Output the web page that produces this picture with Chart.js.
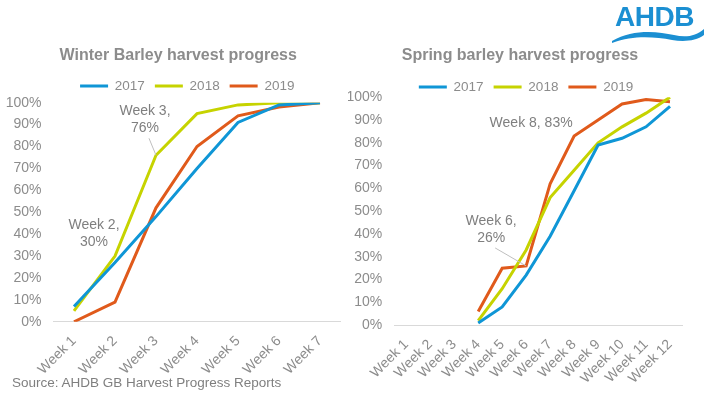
<!DOCTYPE html>
<html>
<head>
<meta charset="utf-8">
<script src="https://cdn.jsdelivr.net/npm/chart.js@4/dist/chart.umd.min.js"></script>
<style>
  body { margin: 0; background: #fff; width: 705px; height: 395px; overflow: hidden; position: relative; font-family: "Liberation Sans", Arial, sans-serif; }
  #winterBox { position: absolute; left: 0; top: 0; width: 352px; height: 389px; }
  #springBox { position: absolute; left: 348px; top: 0; width: 357px; height: 398px; }
  #source { position: absolute; left: 12px; top: 375px; font-size: 13.5px; color: #7f7f7f; }
  #logo { position: absolute; left: 612px; top: 1px; width: 92px; height: 44px; }
  #logo span { position: absolute; left: 3px; top: 0; font-weight: bold; font-size: 28px; color: #1b8fd2; letter-spacing: -0.5px; }
  #logo svg { position: absolute; left: 0; top: 26px; }
</style>
</head>
<body>
<div id="winterBox"><canvas id="winterChart"></canvas></div>
<div id="springBox"><canvas id="springChart"></canvas></div>
<div id="source">Source: AHDB GB Harvest Progress Reports</div>
<div id="logo"><span>AHDB</span>
  <svg width="92" height="18" viewBox="0 0 92 18"><path d="M0 14 C 20 2, 45 4, 62 8 C 74 11, 84 9, 92 2 L 92 8 C 84 14, 72 15, 60 13 C 42 10, 22 8, 0 16 Z" fill="#1b8fd2"/></svg>
</div>
<script>
// winter barley, % harvested by week
const winterWeeks = ["Week 1", "Week 2", "Week 3", "Week 4", "Week 5", "Week 6", "Week 7"];
const winter2017 = [7, 27, 48, 70, 91, 99, 100];
const winter2018 = [5, 30, 76, 95, 99, 100, 100];
const winter2019 = [0, 9, 52, 80, 94, 98, 100];

// spring barley, % harvested by week (nothing before week 4)
const springWeeks = ["Week 1", "Week 2", "Week 3", "Week 4", "Week 5", "Week 6", "Week 7", "Week 8", "Week 9", "Week 10", "Week 11", "Week 12"];
const spring2017 = [null, null, null, 1, 8, 22, 39, 59, 79, 82, 87, 96];
const spring2018 = [null, null, null, 2, 16, 33, 56, 68, 80, 87, 93, 100];
const spring2019 = [null, null, null, 6, 25, 26, 62, 83, 90, 97, 99, 98];

const years = ["2017", "2018", "2019"];
const colours = ["#0f96d6", "#c6d300", "#e05a1b"];
const grey = "#8c8c8c";
const font = "'Liberation Sans', Arial, sans-serif";

// data labels: dataset, point index, text lines, offset from point, leader line
const winterNotes = [
  { ds: 1, idx: 2, lines: ["Week 3,", "76%"], dx: -11, dy: -44, leader: true },
  { ds: 1, idx: 1, lines: ["Week 2,", "30%"], dx: -21, dy: -31, leader: false }
];
const springNotes = [
  { ds: 2, idx: 7, lines: ["Week 8, 83%"], dx: -43, dy: -13, leader: false },
  { ds: 2, idx: 5, lines: ["Week 6,", "26%"], dx: -35, dy: -45, leader: true }
];

const notePlugin = {
  id: 'notes',
  afterDatasetsDraw(chart, args, opts) {
    const ctx = chart.ctx;
    ctx.save();
    ctx.font = "14px " + font;
    ctx.fillStyle = "#7f7f7f";
    ctx.textAlign = "center";
    ctx.textBaseline = "middle";
    opts.notes.forEach(n => {
      const pt = chart.getDatasetMeta(n.ds).data[n.idx];
      const x = pt.x + n.dx, y = pt.y + n.dy;
      n.lines.forEach((t, i) => ctx.fillText(t, x, y + i * 17));
      if (n.leader) {
        ctx.strokeStyle = "#bfbfbf";
        ctx.lineWidth = 1;
        ctx.beginPath();
        ctx.moveTo(x + 4, y + (n.lines.length - 1) * 17 + 10);
        ctx.lineTo(pt.x, pt.y);
        ctx.stroke();
      }
    });
    ctx.restore();
  }
};

// the spring chart has a tighter gap under its legend
const legendTrim = {
  id: 'legendTrim',
  afterInit(chart) {
    const lg = chart.legend;
    const fit = lg.fit;
    lg.fit = function () {
      fit.call(this);
      this.height -= chart.options.plugins.legendTrim.px || 0;
    };
  }
};

// title and legend sit a little right of the default centre
const nudge = {
  id: 'nudge',
  afterLayout(chart, args, opts) {
    chart.titleBlock.left += opts.title;
    chart.titleBlock.right += opts.title;
    chart.legend.left += opts.legend;
    chart.legend.right += opts.legend;
  }
};

function makeChart(id, title, labels, series, notes, pad, titleGap, trim, yWidth, shift) {
  const datasets = series.map((s, i) => ({
    label: years[i],
    data: s,
    borderColor: colours[i],
    backgroundColor: colours[i],
    borderWidth: 3,
    pointRadius: 0,
    tension: 0
  }));
  return new Chart(document.getElementById(id), {
    type: 'line',
    data: { labels: labels, datasets: datasets },
    plugins: [notePlugin, legendTrim, nudge],
    options: {
      responsive: true,
      maintainAspectRatio: false,
      animation: false,
      layout: { padding: pad, autoPadding: false },
      plugins: {
        title: {
          display: true,
          text: title,
          color: grey,
          font: { family: font, size: 16, weight: 'bold' },
          padding: { top: 0, bottom: titleGap }
        },
        legend: {
          labels: {
            usePointStyle: true,
            pointStyle: 'line',
            pointStyleWidth: 28,
            boxHeight: 13,
            color: grey,
            padding: 10,
            font: { family: font, size: 13.5 }
          }
        },
        tooltip: { enabled: false },
        notes: { notes: notes },
        legendTrim: { px: trim },
        nudge: shift
      },
      scales: {
        x: {
          offset: true,
          grid: { display: false, drawTicks: false },
          border: { display: true, color: '#d9d9d9' },
          ticks: { color: grey, font: { family: font, size: 14 }, autoSkip: false, minRotation: 45, maxRotation: 45, padding: 11 }
        },
        y: {
          min: 0,
          max: 100,
          grid: { display: false, drawTicks: false },
          border: { display: false },
          afterFit: axis => { axis.width = yWidth; },
          ticks: { stepSize: 10, color: grey, padding: 12, font: { family: font, size: 14 }, callback: v => v + '%' }
        }
      }
    }
  });
}

makeChart('winterChart', 'Winter Barley harvest progress', winterWeeks,
  [winter2017, winter2018, winter2019], winterNotes, { top: 46, left: 0, right: 11.5, bottom: 0 }, 4, 0, 53.5,
  { title: 8, legend: 17 });
makeChart('springChart', 'Spring barley harvest progress', springWeeks,
  [spring2017, spring2018, spring2019], springNotes, { top: 46, left: 0, right: 23, bottom: 0 }, 5, 6.5, 46.3,
  { title: 5, legend: 11 });
</script>
</body>
</html>
